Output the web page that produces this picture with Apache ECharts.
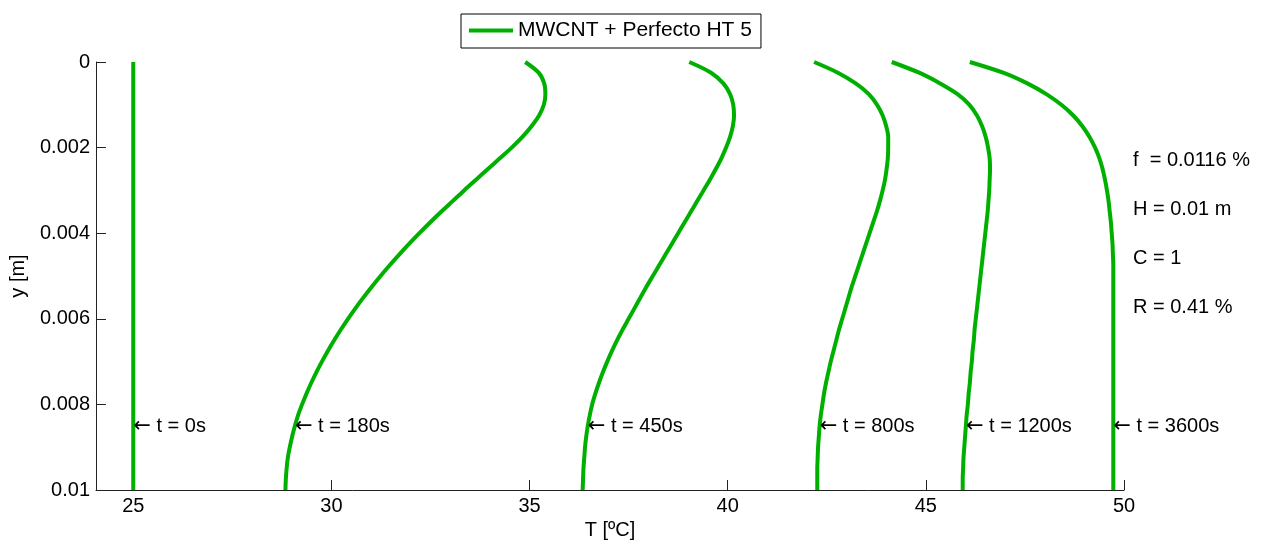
<!DOCTYPE html>
<html>
<head>
<meta charset="utf-8">
<script src="https://cdn.jsdelivr.net/npm/echarts@6/dist/echarts.min.js"></script>
<style>
html,body{margin:0;padding:0;background:#fff;}
#chart{width:1271px;height:540px;}
</style>
</head>
<body>
<div id="chart"></div>
<script>
// depth positions y [m], 0 .. 0.01 every 0.00025
const yVals = [0, 0.00025, 0.0005, 0.00075, 0.001, 0.00125, 0.0015, 0.00175, 0.002, 0.00225,
               0.0025, 0.00275, 0.003, 0.00325, 0.0035, 0.00375, 0.004, 0.00425, 0.0045, 0.00475,
               0.005, 0.00525, 0.0055, 0.00575, 0.006, 0.00625, 0.0065, 0.00675, 0.007, 0.00725,
               0.0075, 0.00775, 0.008, 0.00825, 0.0085, 0.00875, 0.009, 0.00925, 0.0095, 0.00975, 0.01];
// temperature profiles T [ºC] at each y
const T0    = [25,25,25,25,25,25,25,25,25,25,25,25,25,25,25,25,25,25,25,25,25,
               25,25,25,25,25,25,25,25,25,25,25,25,25,25,25,25,25,25,25,25];
const T180  = [34.89,35.23,35.37,35.40,35.36,35.24,35.05,34.82,34.55,34.25,33.95,33.65,33.35,33.06,32.77,32.49,
               32.22,31.96,31.71,31.47,31.24,31.02,30.81,30.61,30.42,30.24,30.07,29.91,29.76,29.62,29.49,29.37,
               29.26,29.16,29.08,29.01,28.95,28.90,28.87,28.85,28.84];
const T450  = [39.03,39.58,39.89,40.06,40.14,40.16,40.13,40.06,39.96,39.84,39.70,39.55,39.39,39.23,39.07,38.91,
               38.75,38.59,38.43,38.27,38.11,37.95,37.80,37.65,37.50,37.35,37.21,37.08,36.96,36.85,36.75,36.66,
               36.58,36.52,36.47,36.43,36.40,36.38,36.36,36.35,36.34];
const T800  = [42.18,42.78,43.23,43.56,43.77,43.91,44.00,44.05,44.05,44.04,44.01,43.97,43.91,43.84,43.76,43.67,
               43.58,43.49,43.40,43.31,43.22,43.13,43.05,42.97,42.89,42.81,42.74,42.67,42.60,42.54,42.48,42.43,
               42.39,42.35,42.32,42.30,42.28,42.27,42.26,42.26,42.26];
const T1200 = [44.14,44.83,45.36,45.80,46.10,46.29,46.42,46.51,46.57,46.61,46.62,46.61,46.60,46.58,46.56,46.53,
               46.50,46.47,46.44,46.41,46.38,46.35,46.32,46.29,46.26,46.23,46.21,46.18,46.16,46.13,46.11,46.08,
               46.06,46.03,46.01,45.99,45.97,45.95,45.94,45.93,45.93];
const T3600 = [46.11,46.95,47.56,48.04,48.42,48.72,48.95,49.13,49.27,49.38,49.46,49.52,49.57,49.61,49.64,49.67,
               49.69,49.71,49.72,49.73,49.73,49.73,49.73,49.73,49.73,49.73,49.73,49.73,49.73,49.73,49.73,49.73,
               49.73,49.73,49.73,49.73,49.73,49.73,49.73,49.73,49.73];
const profiles = [T0, T180, T450, T800, T1200, T3600];
const timeLabels = ['t = 0s', 't = 180s', 't = 450s', 't = 800s', 't = 1200s', 't = 3600s'];
const labelY = 0.0085;
const xTicks = [25, 30, 35, 40, 45, 50];
const yTicks = [0, 0.002, 0.004, 0.006, 0.008, 0.01];
const seriesName = 'MWCNT + Perfecto HT 5';
const notes = ['f  = 0.0116 %', 'H = 0.01 m', 'C = 1', 'R = 0.41 %'];

const FONT = '"Liberation Sans", Arial, sans-serif';
const GREEN = '#00b000';

const chart = echarts.init(document.getElementById('chart'), null, {renderer: 'canvas'});
const li = yVals.indexOf(labelY);

const series = profiles.map((T, k) => ({
  name: seriesName,
  type: 'line',
  data: yVals.map((y, i) => [T[i], y]),
  showSymbol: false,
  symbol: 'none',
  smooth: 0.3,
  color: GREEN,
  lineStyle: {width: 4, color: GREEN},
  animation: false,
  markPoint: {
    symbol: 'circle',
    symbolSize: 0,
    animation: false,
    data: [{
      coord: [T[li], labelY],
      label: {
        show: true,
        position: 'right',
        distance: 0,
        offset: [0, 1],
        formatter: '{a|\u2190} ' + timeLabels[k],
        color: '#000',
        fontSize: 20,
        fontFamily: FONT,
        rich: {
          a: {fontFamily: '"DejaVu Sans", sans-serif', fontSize: 21, color: '#000'}
        }
      }
    }]
  }
}));

const option = {
  animation: false,
  backgroundColor: '#fff',
  grid: {left: 96, right: 147, top: 62, bottom: 50, containLabel: false, outerBoundsMode: 'none'},
  legend: {
    data: [seriesName],
    left: 461,
    top: 14,
    icon: 'rect',
    itemWidth: 44,
    itemHeight: 4,
    padding: [6, 9, 7, 8],
    borderColor: '#000',
    borderWidth: 1,
    textStyle: {fontSize: 21, fontFamily: FONT, color: '#000'}
  },
  xAxis: {
    type: 'value',
    position: 'bottom',
    min: 24.06,
    max: 50,
    name: 'T [ºC]',
    nameLocation: 'middle',
    nameGap: 28,
    nameTextStyle: {fontSize: 20, fontFamily: FONT, color: '#000'},
    axisLine: {show: true, onZero: false, lineStyle: {color: '#222', width: 1}},
    axisTick: {show: true, inside: true, length: 10, customValues: xTicks, lineStyle: {color: '#222'}},
    axisLabel: {customValues: xTicks, fontSize: 20, fontFamily: FONT, color: '#000', margin: 6},
    splitLine: {show: false}
  },
  yAxis: {
    type: 'value',
    position: 'left',
    inverse: true,
    min: 0,
    max: 0.01,
    name: 'y [m]',
    nameLocation: 'middle',
    nameRotate: 90,
    nameGap: 68,
    nameTextStyle: {fontSize: 20, fontFamily: FONT, color: '#000'},
    axisLine: {show: true, onZero: false, lineStyle: {color: '#222', width: 1}},
    axisTick: {show: true, inside: true, length: 10, customValues: yTicks, lineStyle: {color: '#222'}},
    axisLabel: {customValues: yTicks, fontSize: 20, fontFamily: FONT, color: '#000', margin: 6,
                formatter: v => String(+v.toFixed(4))},
    splitLine: {show: false}
  },
  graphic: notes.map((t, i) => ({
    type: 'text',
    left: 1133,
    top: 150 + i * 49,
    style: {text: t, fontSize: 20, fontFamily: FONT, fill: '#000'}
  })),
  series: series
};
chart.setOption(option);
</script>
</body>
</html>
